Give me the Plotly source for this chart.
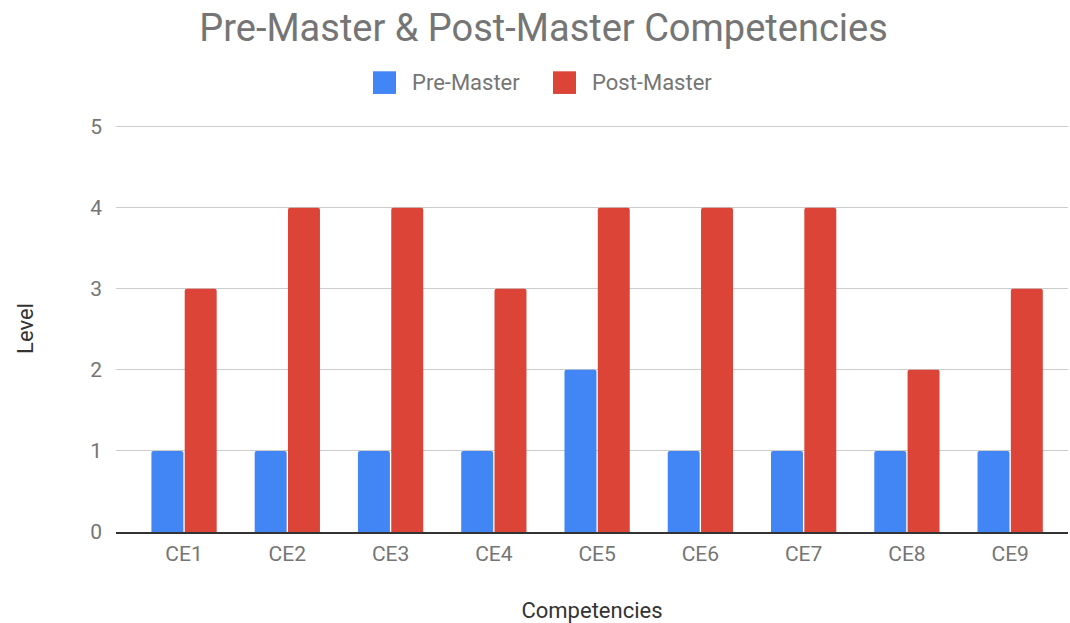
import plotly.graph_objects as go

categories = ["CE1", "CE2", "CE3", "CE4", "CE5", "CE6", "CE7", "CE8", "CE9"]
pre_master = [1, 1, 1, 1, 2, 1, 1, 1, 1]
post_master = [3, 4, 4, 3, 4, 4, 4, 2, 3]
series_names = ["Pre-Master", "Post-Master"]
colors = ["#4285F4", "#DB4437"]
y_ticks = [0, 1, 2, 3, 4, 5]

W, H = 1070, 623
ML, MR, MT, MB = 116, 2, 125, 85
FONT = "Roboto"
GRAY = "#757575"
DARK = "#333333"

fig = go.Figure()
for name, vals, col in zip(series_names, [pre_master, post_master], colors):
    fig.add_trace(go.Bar(x=categories, y=vals, name=name,
                         marker=dict(color=col, cornerradius=2, line=dict(width=0)),
                         showlegend=False))

# custom legend (large swatches like the original)
PW, PH = W - ML - MR, H - MT - MB
legend_y = 82
sw = 23
items_x = [373, 553]
shapes = []
annotations = []
for (name, col, x0) in zip(series_names, colors, items_x):
    shapes.append(dict(type="rect", xref="paper", yref="paper",
                       x0=(x0 - ML) / PW, x1=(x0 + sw - ML) / PW,
                       y0=(H - MB - (legend_y + sw / 2)) / PH,
                       y1=(H - MB - (legend_y - sw / 2)) / PH,
                       fillcolor=col, line=dict(width=0), layer="above"))
    annotations.append(dict(text=name, xref="paper", yref="paper",
                            x=(x0 + sw + 14 - ML) / PW,
                            y=(H - MB - legend_y) / PH,
                            xanchor="left", yanchor="middle", showarrow=False,
                            font=dict(family=FONT, size=22, color=GRAY)))

fig.update_layout(
    width=W, height=H,
    margin=dict(l=ML, r=MR, t=MT, b=MB),
    paper_bgcolor="white", plot_bgcolor="white",
    barmode="group", bargap=0.355, bargroupgap=0.04,
    title=dict(text="Pre-Master & Post-Master Competencies", x=0.508, xanchor="center",
               y=1 - 28 / H, yanchor="middle",
               font=dict(family=FONT, size=38, color=GRAY)),
    font=dict(family=FONT, color=GRAY),
    shapes=shapes, annotations=annotations,
    xaxis=dict(range=[-0.659, 8.56], showgrid=False, showline=True, linecolor="#333333",
               linewidth=1.5, tickfont=dict(size=21, color=GRAY), ticks="", ticklabelstandoff=2,
               title=dict(text="Competencies", font=dict(size=22, color=DARK), standoff=40)),
    yaxis=dict(range=[0, 5.02], tickvals=y_ticks, showgrid=True, gridcolor="#CCCCCC", gridwidth=1,
               zeroline=False, showline=False, ticks="", ticklabelstandoff=13,
               tickfont=dict(size=21, color=GRAY),
               title=dict(text="Level", font=dict(size=22, color=DARK), standoff=50)),
)

fig.write_html("out.html", post_script="document.body.style.margin='0';",
               config={"displayModeBar": False})
